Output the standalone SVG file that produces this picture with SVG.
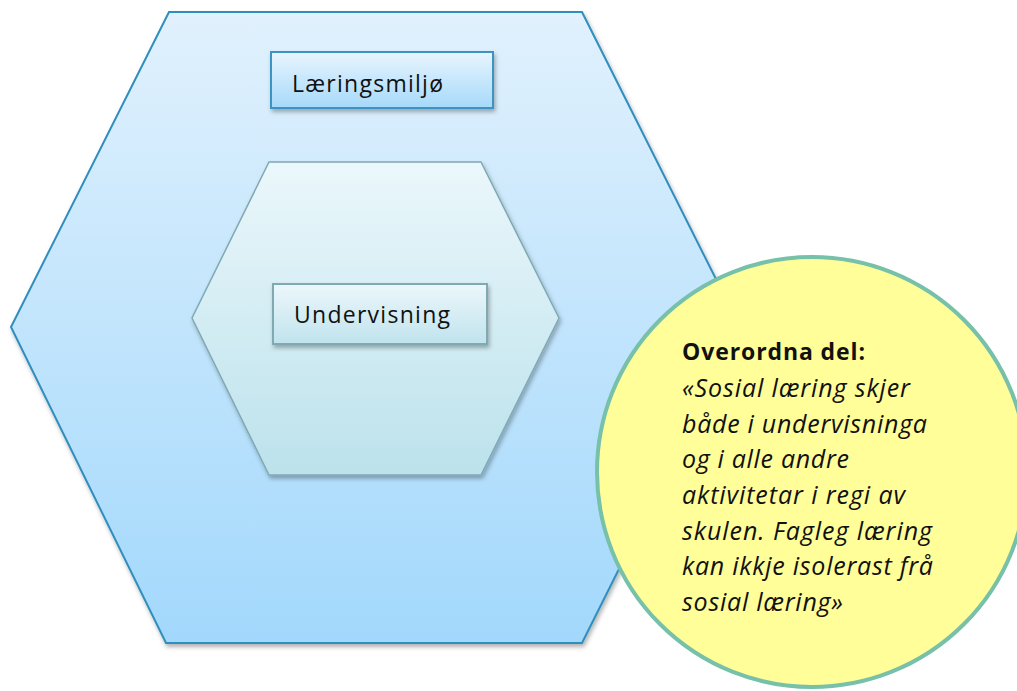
<svg xmlns="http://www.w3.org/2000/svg" width="1017" height="691" viewBox="0 0 1017 691">
<defs>
<linearGradient id="gOuter" x1="0" y1="0" x2="0" y2="1"><stop offset="0" stop-color="#E1F1FD"/><stop offset="1" stop-color="#A2D8FC"/></linearGradient>
<linearGradient id="gInner" x1="0" y1="0" x2="0" y2="1"><stop offset="0" stop-color="#EBF7FB"/><stop offset="1" stop-color="#BCE2EC"/></linearGradient>
<linearGradient id="gBox1" x1="0" y1="0" x2="0" y2="1"><stop offset="0" stop-color="#E8F5FD"/><stop offset="1" stop-color="#A6D9FA"/></linearGradient>
<linearGradient id="gBox2" x1="0" y1="0" x2="0" y2="1"><stop offset="0" stop-color="#ECF7FB"/><stop offset="1" stop-color="#C0E3ED"/></linearGradient>
<filter id="sh" x="-10%" y="-10%" width="125%" height="125%"><feDropShadow dx="1.5" dy="3" stdDeviation="2" flood-color="#000" flood-opacity="0.3"/></filter>
</defs>
<style>
.lbl{font-family:"Open Sans","Liberation Sans",sans-serif;font-size:23px;fill:#111}
.q{font-family:"Open Sans","Liberation Sans",sans-serif;font-size:25px;fill:#111;font-style:italic}
.qb{font-family:"Open Sans","Liberation Sans",sans-serif;font-size:23px;fill:#111;font-weight:bold}
</style>
<rect width="1017" height="691" fill="#fff"/>
<g id="outer-hexagon">
<polygon points="169,12 582,12 740,327 582,643 166,643 11,327" fill="url(#gOuter)" stroke="#2F8FBE" stroke-width="2" filter="url(#sh)"/>
</g>
<g id="laeringsmiljo">
<rect x="271" y="52" width="222" height="56" fill="url(#gBox1)" stroke="#3A94C2" stroke-width="2" filter="url(#sh)"/>
<text class="lbl" x="292" y="92" textLength="151">Læringsmiljø</text>
</g>
<g id="inner-hexagon">
<polygon points="269,162 481,162 559,318 481,475 269,475 192,318" fill="url(#gInner)" stroke="#7FA9B3" stroke-width="1.5" filter="url(#sh)"/>
</g>
<g id="undervisning">
<rect x="273" y="284" width="214" height="60" fill="url(#gBox2)" stroke="#80A9B2" stroke-width="2" filter="url(#sh)"/>
<text class="lbl" x="294" y="323" textLength="156">Undervisning</text>
</g>
<g id="connectors"></g>
<g id="quote-circle">
<circle cx="812" cy="472" r="215" fill="#FFFE99" stroke="#77C0A9" stroke-width="4"/>
<text class="qb" x="682" y="360" textLength="183">Overordna del:</text>
<text class="q" x="682" y="397" textLength="228">«Sosial læring skjer</text>
<text class="q" x="682" y="433" textLength="245">både i undervisninga</text>
<text class="q" x="682" y="468" textLength="167">og i alle andre</text>
<text class="q" x="682" y="504" textLength="223">aktivitetar i regi av</text>
<text class="q" x="682" y="540" textLength="250">skulen. Fagleg læring</text>
<text class="q" x="682" y="575" textLength="251">kan ikkje isolerast frå</text>
<text class="q" x="682" y="611" textLength="161">sosial læring»</text>
</g>
</svg>
